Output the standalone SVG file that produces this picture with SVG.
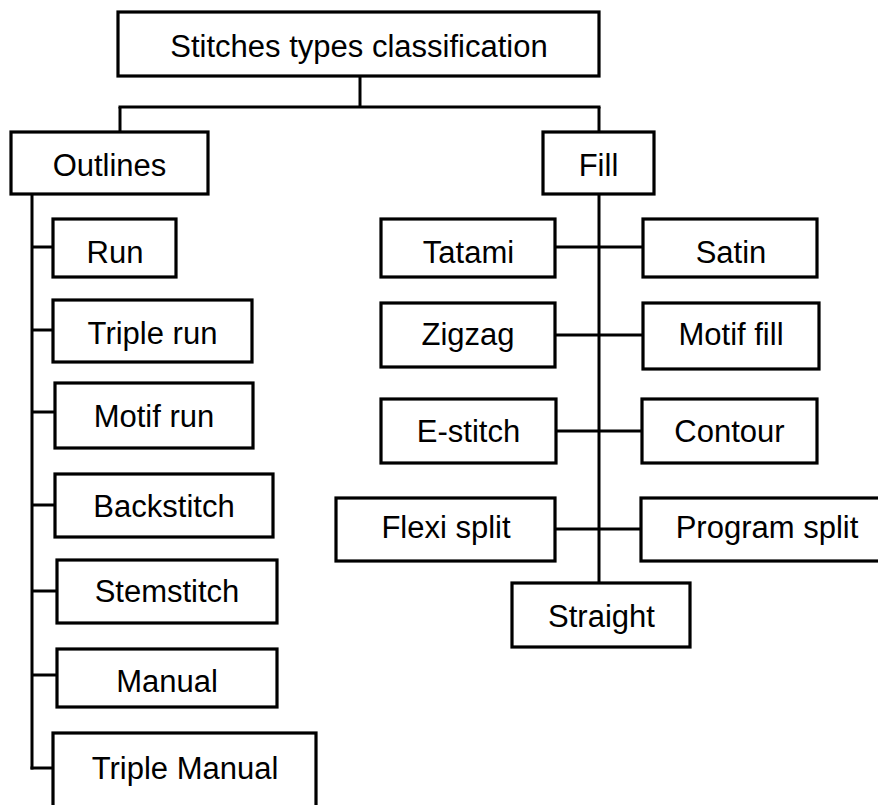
<svg xmlns="http://www.w3.org/2000/svg" width="878" height="805" viewBox="0 0 878 805">
<style>
rect.b{fill:#fff;stroke:#000;stroke-width:3.2}
text{font-family:"Liberation Sans",Arial,sans-serif;font-size:31px;fill:#000;text-anchor:middle}
.c line{stroke:#000;stroke-width:3}
</style>
<rect width="878" height="805" fill="#fff"/>
<g class="c" id="connectors">
<line x1="360" y1="76" x2="360" y2="107"/>
<line x1="118.5" y1="107" x2="600.5" y2="107"/>
<line x1="120" y1="107" x2="120" y2="132"/>
<line x1="599" y1="107" x2="599" y2="132"/>
<line x1="32" y1="194" x2="32" y2="769.5"/>
<line x1="30.5" y1="768" x2="53" y2="768"/>
<line x1="32" y1="247" x2="53" y2="247"/>
<line x1="32" y1="330" x2="53" y2="330"/>
<line x1="32" y1="412" x2="55" y2="412"/>
<line x1="32" y1="505" x2="55" y2="505"/>
<line x1="32" y1="591" x2="57" y2="591"/>
<line x1="32" y1="675" x2="57" y2="675"/>
<line x1="599" y1="194" x2="599" y2="583"/>
<line x1="555" y1="247" x2="643" y2="247"/>
<line x1="555" y1="335" x2="643" y2="335"/>
<line x1="556" y1="431" x2="642" y2="431"/>
<line x1="555" y1="529" x2="641" y2="529"/>
</g>
<g id="root"><rect class="b" x="118" y="12" width="481" height="64"/><text x="359" y="57">Stitches types classification</text></g>
<g id="outlines"><rect class="b" x="11" y="132" width="197" height="62"/><text x="109.5" y="175.5">Outlines</text></g>
<g id="fill"><rect class="b" x="543" y="132" width="111" height="62"/><text x="598.5" y="175.5">Fill</text></g>
<g id="run"><rect class="b" x="53" y="219" width="123" height="58"/><text x="115" y="262.5">Run</text></g>
<g id="triple-run"><rect class="b" x="53" y="300" width="199" height="62"/><text x="152.5" y="343.5">Triple run</text></g>
<g id="motif-run"><rect class="b" x="55" y="383" width="198" height="65"/><text x="154" y="426.5">Motif run</text></g>
<g id="backstitch"><rect class="b" x="55" y="474" width="218" height="63"/><text x="164" y="516.5">Backstitch</text></g>
<g id="stemstitch"><rect class="b" x="57" y="560" width="220" height="63"/><text x="167" y="602">Stemstitch</text></g>
<g id="manual"><rect class="b" x="57" y="649" width="220" height="58"/><text x="167" y="692">Manual</text></g>
<g id="triple-manual"><rect class="b" x="53" y="733" width="263" height="85"/><text x="185" y="779">Triple Manual</text></g>
<g id="tatami"><rect class="b" x="381" y="219" width="174" height="58"/><text x="468.5" y="262.5">Tatami</text></g>
<g id="satin"><rect class="b" x="643" y="219" width="174" height="58"/><text x="731" y="262.5">Satin</text></g>
<g id="zigzag"><rect class="b" x="381" y="303" width="174" height="64"/><text x="468" y="345">Zigzag</text></g>
<g id="motif-fill"><rect class="b" x="643" y="303" width="176" height="66"/><text x="731" y="345">Motif fill</text></g>
<g id="e-stitch"><rect class="b" x="381" y="399" width="175" height="64"/><text x="468.5" y="442">E-stitch</text></g>
<g id="contour"><rect class="b" x="642" y="399" width="175" height="64"/><text x="729.5" y="442">Contour</text></g>
<g id="flexi-split"><rect class="b" x="336" y="498" width="219" height="63"/><text x="446" y="538">Flexi split</text></g>
<g id="program-split"><rect class="b" x="641" y="498" width="252" height="63"/><text x="767" y="538">Program split</text></g>
<g id="straight"><rect class="b" x="512" y="583" width="178" height="64"/><text x="601.5" y="626.5">Straight</text></g>
</svg>
